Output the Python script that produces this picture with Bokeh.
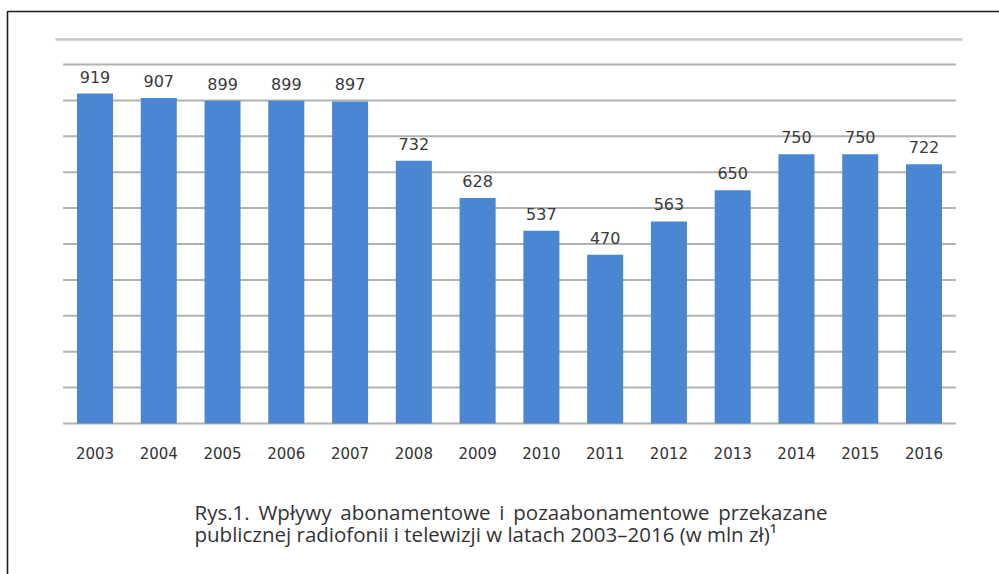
from bokeh.plotting import figure
from bokeh.models import Range1d
from bokeh.core.properties import value
from bokeh.embed import file_html
from bokeh.resources import INLINE

# ---- data ----
years = [2003, 2004, 2005, 2006, 2007, 2008, 2009, 2010, 2011, 2012, 2013, 2014, 2015, 2016]
amounts = [919, 907, 899, 899, 897, 732, 628, 537, 470, 563, 650, 750, 750, 722]
year_labels = [str(y) for y in years]
value_labels = [str(a) for a in amounts]
grid_values = [0, 100, 200, 300, 400, 500, 600, 700, 800, 900, 1000]
caption_line1_words = ["Rys.1.", "Wpływy", "abonamentowe", "i", "pozaabonamentowe", "przekazane"]
caption_line2 = "publicznej radiofonii i telewizji w latach 2003\u20132016 (w mln zł)\u00b9"

# justified first line: regular space plus a six-per-em space between words
caption_lines = [" \u2006".join(caption_line1_words), caption_line2]

# ---- layout (pixels) ----
W, H = 999, 574
X_FIRST_PX, X_LAST_PX = 94.5, 923.5
Y0_PX, Y1000_PX = 423.0, 64.0
px_per_year = (X_LAST_PX - X_FIRST_PX) / (years[-1] - years[0])
px_per_unit = (Y0_PX - Y1000_PX) / 1000.0
x_start = years[0] - X_FIRST_PX / px_per_year
x_end = x_start + W / px_per_year
y_end = Y0_PX / px_per_unit
y_start = -(H - Y0_PX) / px_per_unit


def dx(px):
    return x_start + px / px_per_year


def dy(py):
    return (Y0_PX - py) / px_per_unit


p = figure(width=W, height=H, x_range=Range1d(x_start, x_end), y_range=Range1d(y_start, y_end),
           min_border=0, x_axis_location=None, y_axis_location=None,
           toolbar_location=None, output_backend="svg", outline_line_color=None)
p.grid.visible = False
p.background_fill_color = "white"
p.border_fill_color = "white"

# outer box (top and left edges)
p.line(x=[dx(W + 10), dx(7), dx(7)], y=[dy(11), dy(11), dy(H + 10)], line_color="#1e1e1e", line_width=1.6)

# chart area top line
p.segment(x0=[dx(55)], x1=[dx(962)], y0=[dy(39)], y1=[dy(39)], line_color="#c4c4c4", line_width=2.5)

# gridlines
half = 0.5
p.segment(x0=[years[0] - half] * len(grid_values), x1=[years[-1] + half] * len(grid_values),
          y0=grid_values, y1=grid_values, line_color="#b2b2b2", line_width=2)

# bars
p.vbar(x=years, top=amounts, bottom=0, width=0.565, fill_color="#4a87d3", line_color=None)

# value labels
p.text(x=years, y=amounts, text=value_labels, text_align="center", text_baseline="alphabetic",
       y_offset=-17, text_font=value("DejaVu Sans"), text_font_size="16px", text_color="#3a3a3a")

# year labels
p.text(x=years, y=[dy(452)] * len(years), text=year_labels, text_align="center", text_baseline="middle",
       text_font=value("DejaVu Sans"), text_font_size="15px", text_color="#333333")

# caption
p.text(x=[dx(194), dx(194)], y=[dy(511), dy(533)], text=caption_lines, text_align="left",
       text_baseline="alphabetic", text_font=value("Open Sans"), text_font_size="20.5px", text_color="#333333")

open("out.html", "w").write(file_html(p, INLINE))
